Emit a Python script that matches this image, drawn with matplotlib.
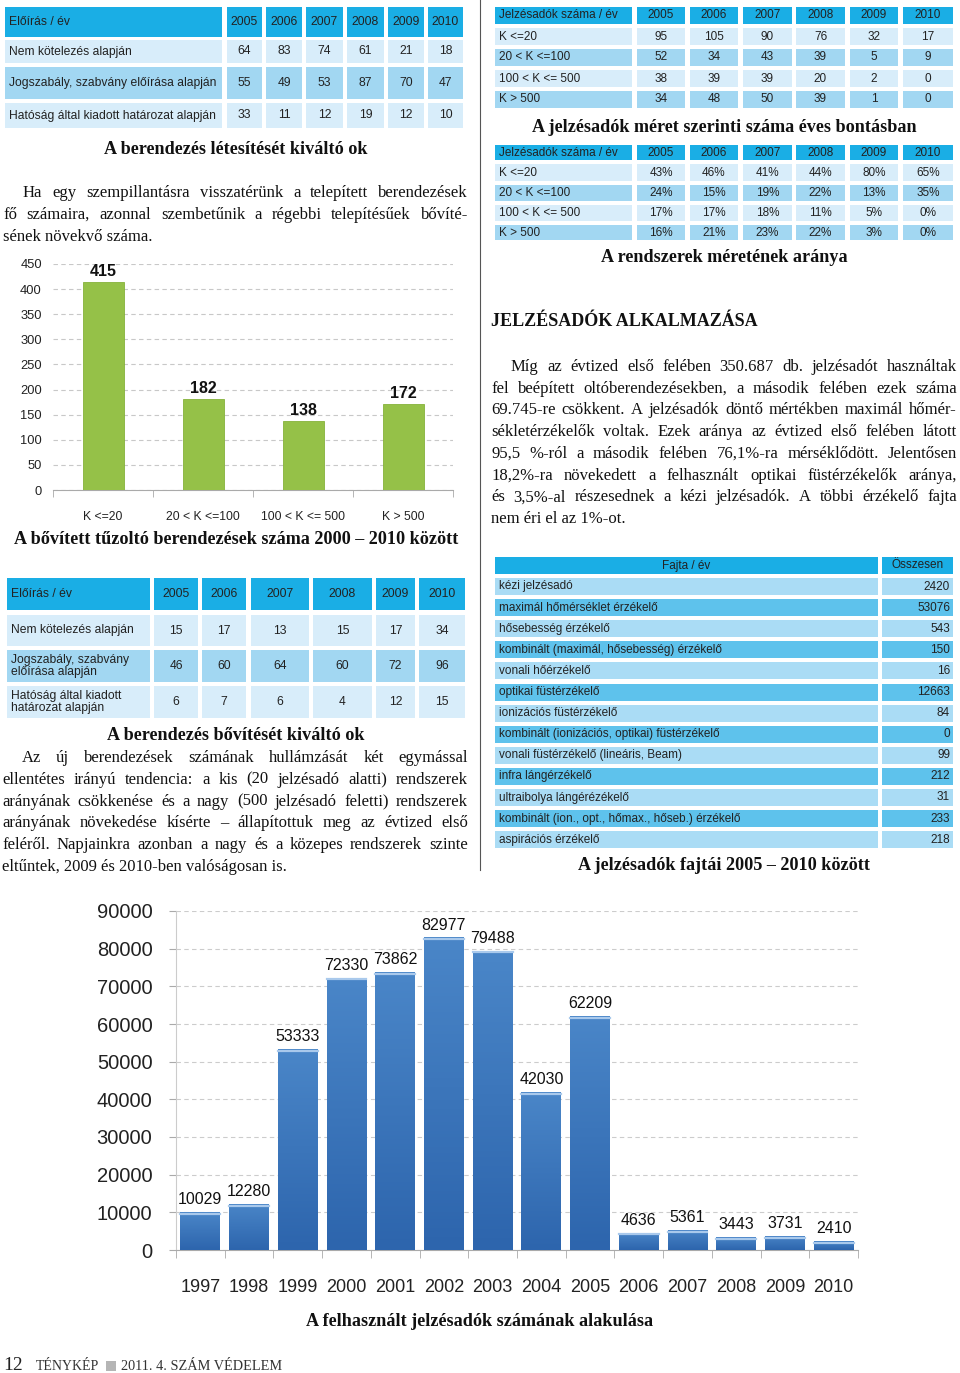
import numpy as np
import matplotlib
matplotlib.use("Agg")
import matplotlib.pyplot as plt
from matplotlib.patches import Rectangle

# ---- data ----
years6 = ['2005', '2006', '2007', '2008', '2009', '2010']

letesites_labels = ['Nem kötelezés alapján',
                    'Jogszabály, szabvány előírása alapján',
                    'Hatóság által kiadott határozat alapján']
letesites_vals = [[64, 83, 74, 61, 21, 18],
                  [55, 49, 53, 87, 70, 47],
                  [33, 11, 12, 19, 12, 10]]

meret_labels = ['K <=20', '20 < K <=100', '100 < K <= 500', 'K > 500']
meret_db = [[95, 105, 90, 76, 32, 17],
            [52, 34, 43, 39, 5, 9],
            [38, 39, 39, 20, 2, 0],
            [34, 48, 50, 39, 1, 0]]
meret_pct = [[43, 46, 41, 44, 80, 65],
             [24, 15, 19, 22, 13, 35],
             [17, 17, 18, 11, 5, 0],
             [16, 21, 23, 22, 3, 0]]

bovitett_cats = ['K <=20', '20 < K <=100', '100 < K <= 500', 'K > 500']
bovitett_vals = [415, 182, 138, 172]

bovites_labels = ['Nem kötelezés alapján',
                  'Jogszabály, szabvány\nelőírása alapján',
                  'Hatóság által kiadott\nhatározat alapján']
bovites_vals = [[15, 17, 13, 15, 17, 34],
                [46, 60, 64, 60, 72, 96],
                [6, 7, 6, 4, 12, 15]]

fajta_labels = ['kézi jelzésadó', 'maximál hőmérséklet érzékelő', 'hősebesség érzékelő',
                'kombinált (maximál, hősebesség) érzékelő', 'vonali hőérzékelő',
                'optikai füstérzékelő', 'ionizációs füstérzékelő',
                'kombinált (ionizációs, optikai) füstérzékelő',
                'vonali füstérzékelő (lineáris, Beam)', 'infra lángérzékelő',
                'ultraibolya lángérézékelő', 'kombinált (ion., opt., hőmax., hőseb.) érzékelő',
                'aspirációs érzékelő']
fajta_vals = [2420, 53076, 543, 150, 16, 12663, 84, 0, 99, 212, 31, 233, 218]

evek = ['1997', '1998', '1999', '2000', '2001', '2002', '2003',
        '2004', '2005', '2006', '2007', '2008', '2009', '2010']
jelzesado_db = [10029, 12280, 53333, 72330, 73862, 82977, 79488,
                42030, 62209, 4636, 5361, 3443, 3731, 2410]

text1 = ["Ha egy szempillantásra visszatérünk a telepített berendezések",
         "fő számaira, azonnal szembetűnik a régebbi telepítésűek bővíté-",
         "sének növekvő száma."]
text2 = ["Az új berendezések számának hullámzását két egymással",
         "ellentétes irányú tendencia: a kis (20 jelzésadó alatti) rendszerek",
         "arányának csökkenése és a nagy (500 jelzésadó feletti) rendszerek",
         "arányának növekedése kísérte – állapítottuk meg az évtized első",
         "feléről. Napjainkra azonban a nagy és a közepes rendszerek szinte",
         "eltűntek, 2009 és 2010-ben valóságosan is."]
text3 = ["Míg az évtized első felében 350.687 db. jelzésadót használtak",
         "fel beépített oltóberendezésekben, a második felében ezek száma",
         "69.745-re csökkent. A jelzésadók döntő mértékben maximál hőmér-",
         "sékletérzékelők voltak. Ezek aránya az évtized első felében látott",
         "95,5 %-ról a második felében 76,1%-ra mérséklődött. Jelentősen",
         "18,2%-ra növekedett a felhasznált optikai füstérzékelők aránya,",
         "és 3,5%-al részesednek a kézi jelzésadók. A többi érzékelő fajta",
         "nem éri el az 1%-ot."]

# ---- styles ----
SANS = ['Liberation Sans', 'DejaVu Sans']
SERIF = ['Liberation Serif', 'DejaVu Serif']
HEAD = '#1aaee5'
LIGHT = '#d8edfa'
MID = '#a2d7f2'
TXT = '#222222'

W, H = 960, 1373
fig = plt.figure(figsize=(W / 100, H / 100), dpi=100)
page = fig.add_axes([0, 0, 1, 1])
page.set_xlim(0, W)
page.set_ylim(H, 0)
page.axis('off')
renderer = fig.canvas.get_renderer()


def box(x0, x1, y0, y1, color):
    page.add_patch(Rectangle((x0, y0), x1 - x0, y1 - y0, color=color, lw=0))


def table(cols, rows, header, body, fs, label_pad=4, head_align=None, val_align='center'):
    # cols: list of (x0, x1); rows: list of (y0, y1, color); first row = header
    for r, (y0, y1, c) in enumerate(rows):
        cells = header if r == 0 else body[r - 1]
        for k, (x0, x1) in enumerate(cols):
            box(x0, x1, y0, y1, c)
            ym = (y0 + y1) / 2
            if k == 0:
                ha = 'left' if head_align is None or r > 0 else head_align
                xt = x0 + label_pad if ha == 'left' else (x0 + x1) / 2
            else:
                ha = val_align if r > 0 else 'center'
                xt = (x0 + x1) / 2 if ha == 'center' else x1 - 3
            page.text(xt, ym, str(cells[k]), ha=ha, va='center', fontsize=fs,
                      family=SANS, color=TXT, linespacing=0.95)


def justify(lines, x0, x1, y, dy, fs, indent=0):
    for i, line in enumerate(lines):
        yy = y + i * dy
        xs = x0 + (indent if i == 0 else 0)
        if i == len(lines) - 1:
            page.text(xs, yy, line, fontsize=fs, family=SERIF, va='baseline', color='#111111')
            continue
        words = line.split(' ')
        ts = [page.text(0, yy, w, fontsize=fs, family=SERIF, va='baseline', color='#111111')
              for w in words]
        ws = [t.get_window_extent(renderer).width for t in ts]
        gap = (x1 - xs - sum(ws)) / (len(words) - 1)
        pos = xs
        for t, w in zip(ts, ws):
            t.set_x(pos)
            pos += w + gap


def caption(x, y, s, fs=13.1):
    page.text(x, y, s, ha='center', va='center', fontsize=fs, family=SERIF,
              fontweight='bold', color='#111111')


# ---- top-left table ----
cols1 = [(5, 222), (227, 262), (266, 302), (306, 343), (347, 384), (388, 424), (428, 463)]
rows1 = [(7, 37, HEAD), (40, 63, LIGHT), (67, 99, MID), (103, 128, LIGHT)]
table(cols1, rows1, ['Előírás / év'] + years6,
      [[l] + v for l, v in zip(letesites_labels, letesites_vals)], 8.7)
caption(236, 150, 'A berendezés létesítését kiváltó ok')
justify(text1, 3, 468, 197, 22, 12, indent=20)

# divider
page.plot([480, 480], [0, 870], color='#555555', lw=0.8)

# ---- green chart ----
ax1 = fig.add_axes([53 / W, 1 - 490 / H, 400 / W, 226 / H])
x1 = np.arange(len(bovitett_vals))
ax1.bar(x1, bovitett_vals, width=0.41, color='#95c148', zorder=3,
        edgecolor='#86b23a', lw=0.6)
for xi, v in zip(x1, bovitett_vals):
    ax1.text(xi, v + 6, str(v), ha='center', va='bottom', fontsize=11.5,
             family=SANS, fontweight='bold', color='#111111')
ax1.set_xlim(-0.5, 3.5)
ax1.set_ylim(0, 450)
ax1.set_yticks(range(0, 451, 50))
ax1.set_yticklabels([str(v) for v in range(0, 451, 50)], family=SANS, fontsize=9.3, color='#222222')
ax1.set_xticks(x1)
ax1.set_xticklabels(bovitett_cats, family=SANS, fontsize=8.8, color='#222222')
ax1.set_xticks(np.arange(-0.5, 4, 1), minor=True)
ax1.tick_params(axis='x', which='major', length=0, pad=15)
ax1.tick_params(axis='x', which='minor', length=5, color='#aaaaaa', direction='out')
ax1.tick_params(axis='y', length=0, pad=8)
ax1.grid(axis='y', ls=(0, (4, 3)), color='#c8c8c8', lw=0.8, zorder=0)
for s in ['top', 'right', 'left']:
    ax1.spines[s].set_visible(False)
ax1.spines['bottom'].set_color('#aaaaaa')
caption(236, 540, 'A bővített tűzoltó berendezések száma 2000 – 2010 között')

# ---- left middle table ----
cols2 = [(7, 150), (154, 198), (202, 246), (251, 309), (313, 372), (376, 415), (419, 465)]
rows2 = [(578, 610, HEAD), (615, 646, LIGHT), (650, 682, MID), (686, 718, LIGHT)]
table(cols2, rows2, ['Előírás / év'] + years6,
      [[l] + v for l, v in zip(bovites_labels, bovites_vals)], 8.7)
caption(236, 735, 'A berendezés bővítését kiváltó ok')
justify(text2, 2, 468, 762, 21.8, 12, indent=20)

# ---- right tables ----
cols3 = [(495, 632), (637, 685), (690, 738), (743, 792), (796, 845), (850, 898), (903, 953)]
rows3 = [(7, 24, HEAD), (28, 45, LIGHT), (49, 66, MID), (70, 87, LIGHT), (91, 108, MID)]
table(cols3, rows3, ['Jelzésadók száma / év'] + years6,
      [[l] + v for l, v in zip(meret_labels, meret_db)], 8.5)
caption(724, 127, 'A jelzésadók méret szerinti száma éves bontásban')

rows4 = [(145, 160, HEAD), (164, 181, LIGHT), (185, 201, MID), (205, 221, LIGHT), (225, 240, MID)]
table(cols3, rows4, ['Jelzésadók száma / év'] + years6,
      [[l] + ['%d%%' % p for p in v] for l, v in zip(meret_labels, meret_pct)], 8.5)
caption(724, 257, 'A rendszerek méretének aránya')

page.text(491, 322, 'JELZÉSADÓK ALKALMAZÁSA', ha='left', va='center', fontsize=13,
          family=SERIF, fontweight='bold', color='#111111')
justify(text3, 491, 957, 371, 21.7, 12, indent=20)

# ---- fajta table ----
cols5 = [(495, 878), (882, 953)]
rows5 = [(557, 574, HEAD)]
for i in range(len(fajta_labels)):
    top = 578 + 21.1 * i
    rows5.append((top, top + 17, '#aadcf5' if i % 2 == 0 else '#5ec2ec'))
table(cols5, rows5, ['Fajta / év', 'Összesen'],
      [[l, v] for l, v in zip(fajta_labels, fajta_vals)], 8.5, head_align='center', val_align='right')
caption(724, 866, 'A jelzésadók fajtái 2005 – 2010 között')

# ---- blue chart ----
ax2 = fig.add_axes([176 / W, 1 - 1250 / H, 682 / W, 339 / H])
x2 = np.arange(len(jelzesado_db))
bars = ax2.bar(x2, jelzesado_db, width=0.82, color='#3a76bf', zorder=3)
grad = np.linspace(0, 1, 100).reshape(-1, 1)
cmap = matplotlib.colors.LinearSegmentedColormap.from_list('b', ['#2d65ad', '#4a86c8'])
for b in bars:
    bx, bw, bh = b.get_x(), b.get_width(), b.get_height()
    im = ax2.imshow(grad, extent=[bx, bx + bw, 0, bh], aspect='auto', cmap=cmap,
                    origin='lower', zorder=3)
    im.set_clip_path(b)
    ax2.plot([bx, bx + bw], [bh - 500, bh - 500], color='#a9c9ec', lw=1.6, zorder=4)
for xi, v in zip(x2, jelzesado_db):
    ax2.text(xi, v + 1300, str(v), ha='center', va='bottom', fontsize=11.5,
             family=SANS, color='#111111')
ax2.set_xlim(-0.5, len(evek) - 0.5)
ax2.set_ylim(0, 90000)
ax2.set_yticks(range(0, 90001, 10000))
ax2.set_yticklabels([str(v) for v in range(0, 90001, 10000)], family=SANS,
                    fontsize=14.5, color='#222222')
ax2.set_xticks(x2)
ax2.set_xticklabels(evek, family=SANS, fontsize=13, color='#222222')
ax2.set_xticks(np.arange(-0.5, len(evek), 1), minor=True)
ax2.tick_params(axis='x', which='major', length=0, pad=21)
ax2.tick_params(axis='x', which='minor', length=6, color='#aaaaaa', direction='out')
ax2.tick_params(axis='y', length=5, color='#aaaaaa', direction='out', pad=12)
ax2.grid(axis='y', ls=(0, (4, 3)), color='#cccccc', lw=0.8, zorder=0)
for s in ['top', 'right']:
    ax2.spines[s].set_visible(False)
ax2.spines['bottom'].set_color('#aaaaaa')
ax2.spines['left'].set_color('#cccccc')
caption(480, 1321, 'A felhasznált jelzésadók számának alakulása')

# ---- footer ----
page.text(3, 1366, '12', fontsize=14, family=SERIF, va='center', color='#222222')
page.text(36, 1367, 'TÉNYKÉP', fontsize=10, family=SERIF, va='center', color='#333333')
box(106, 116, 1361, 1371, '#b5b5b5')
page.text(121, 1367, '2011. 4. SZÁM VÉDELEM', fontsize=10.3, family=SERIF, va='center', color='#333333')

fig.savefig('out.png', dpi=100)
